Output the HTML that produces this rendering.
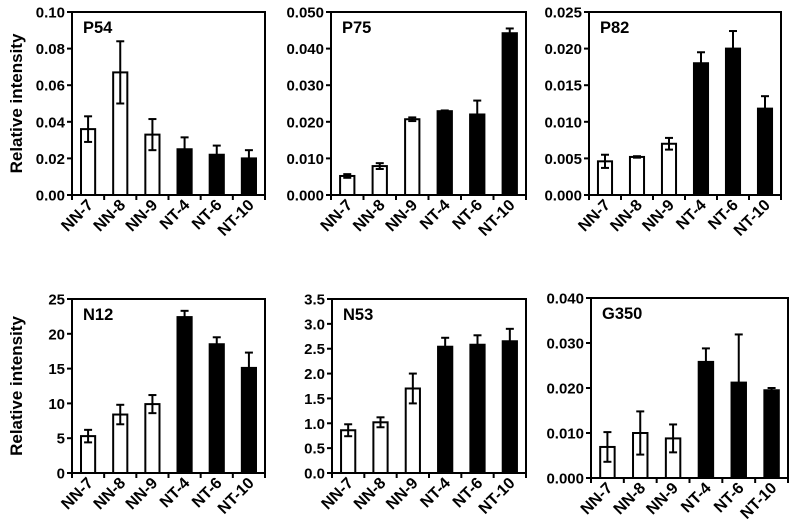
<!DOCTYPE html>
<html><head><meta charset="utf-8"><style>
html,body{margin:0;padding:0;background:#fff;}
svg{display:block;font-family:"Liberation Sans",Arial,sans-serif;font-weight:bold;}
</style></head><body>
<svg id="fig" width="797" height="527" viewBox="0 0 797 527"></svg>
<script>
const categories = ["NN-7","NN-8","NN-9","NT-4","NT-6","NT-10"];
const p54Values = [0.036,0.067,0.033,0.025,0.022,0.020];
const p54Errors = [0.007,0.017,0.0085,0.0065,0.005,0.0045];
const p54Ticks = ["0.00","0.02","0.04","0.06","0.08","0.10"];
const p75Values = [0.0052,0.0079,0.0207,0.0229,0.022,0.0442];
const p75Errors = [0.0005,0.0008,0.0005,0.0002,0.0038,0.0013];
const p75Ticks = ["0.000","0.010","0.020","0.030","0.040","0.050"];
const p82Values = [0.0046,0.0052,0.007,0.018,0.020,0.0118];
const p82Errors = [0.0009,0.0001,0.0008,0.0015,0.0024,0.0017];
const p82Ticks = ["0.000","0.005","0.010","0.015","0.020","0.025"];
const n12Values = [5.3,8.4,9.9,22.4,18.5,15.1];
const n12Errors = [0.9,1.4,1.3,0.9,1.0,2.2];
const n12Ticks = ["0","5","10","15","20","25"];
const n53Values = [0.86,1.02,1.70,2.54,2.58,2.65];
const n53Errors = [0.12,0.1,0.3,0.18,0.19,0.25];
const n53Ticks = ["0.0","0.5","1.0","1.5","2.0","2.5","3.0","3.5"];
const g350Values = [0.0069,0.0100,0.0088,0.0258,0.0212,0.0195];
const g350Errors = [0.0033,0.0048,0.0031,0.0030,0.0107,0.0005];
const g350Ticks = ["0.000","0.010","0.020","0.030","0.040"];

const panels = [
 {title:"P54",vals:p54Values,errs:p54Errors,ticks:p54Ticks,x0:72,x1:265,y0:12,y1:195,ylab:true},
 {title:"P75",vals:p75Values,errs:p75Errors,ticks:p75Ticks,x0:331,x1:526,y0:12,y1:195},
 {title:"P82",vals:p82Values,errs:p82Errors,ticks:p82Ticks,x0:589,x1:781,y0:12,y1:195},
 {title:"N12",vals:n12Values,errs:n12Errors,ticks:n12Ticks,x0:72,x1:265,y0:299,y1:473,ylab:true},
 {title:"N53",vals:n53Values,errs:n53Errors,ticks:n53Ticks,x0:332,x1:526,y0:299,y1:473},
 {title:"G350",vals:g350Values,errs:g350Errors,ticks:g350Ticks,x0:591,x1:788,y0:298,y1:478}
];
const NS="http://www.w3.org/2000/svg";
const svg=document.getElementById('fig');
function mk(tag,attrs,parent){const e=document.createElementNS(NS,tag);for(const k in attrs)e.setAttribute(k,attrs[k]);parent.appendChild(e);return e;}
panels.forEach(p=>{
 const g=mk('g',{},svg);
 
 
 const tmin=parseFloat(p.ticks[0]), tmax=parseFloat(p.ticks[p.ticks.length-1]);
 const yS=v=>p.y1-(v-tmin)/(tmax-tmin)*(p.y1-p.y0);
 const slot=(p.x1-p.x0)/categories.length;
 const xS=i=>p.x0+slot*(i+0.5);
 const bw=slot*0.44;
 p.vals.forEach((v,i)=>{
  const black=i>=3;
  const r=mk('rect',{x:xS(i)-bw/2,y:yS(v),width:bw,height:p.y1-yS(v),fill:black?'#000':'#fff',stroke:'#000','stroke-width':2},g);
  
  
  const e=p.errs[i], cx=xS(i);
  const eg=mk('g',{stroke:'#000','stroke-width':2},g);
  
  
  mk('line',{x1:cx,x2:cx,y1:yS(v+e),y2:yS(v-e)},eg);
  mk('line',{x1:cx-4,x2:cx+4,y1:yS(v+e),y2:yS(v+e)},eg);
  mk('line',{x1:cx-4,x2:cx+4,y1:yS(v-e),y2:yS(v-e)},eg);
 });
 const fr=mk('rect',{x:p.x0,y:p.y0,width:p.x1-p.x0,height:p.y1-p.y0,fill:'none',stroke:'#000','stroke-width':2},g);
 
 
 p.ticks.forEach(t=>{
  const y=yS(parseFloat(t));
  mk('line',{x1:p.x0-5,x2:p.x0,y1:y,y2:y,stroke:'#000','stroke-width':2},g);
  const tx=mk('text',{x:p.x0-7,y:y+5.5,'text-anchor':'end','font-size':15},g);
  tx.textContent=t;
  
  
 });
 for(let i=0;i<=categories.length;i++){
  const x=p.x0+slot*i;
  mk('line',{x1:x,x2:x,y1:p.y1,y2:p.y1+5,stroke:'#000','stroke-width':2},g);
 }
 categories.forEach((c,i)=>{
  const x=xS(i)+6, y=p.y1+11;
  const tx=mk('text',{x:x,y:y,'text-anchor':'end','font-size':16,transform:`rotate(-45 ${x} ${y})`},g);
  tx.textContent=c;
  
  
 });
 const tt=mk('text',{x:p.x0+11,y:p.y0+21,'font-size':16.5},g);
 tt.textContent=p.title;
 
 
 if(p.ylab){
  const cy=(p.y0+p.y1)/2, cx=22;
  const yl=mk('text',{x:cx,y:cy,'text-anchor':'middle','font-size':17,transform:`rotate(-90 ${cx} ${cy})`},g);
  yl.textContent="Relative intensity";
  
  
 }
});
</script>
</body></html>
